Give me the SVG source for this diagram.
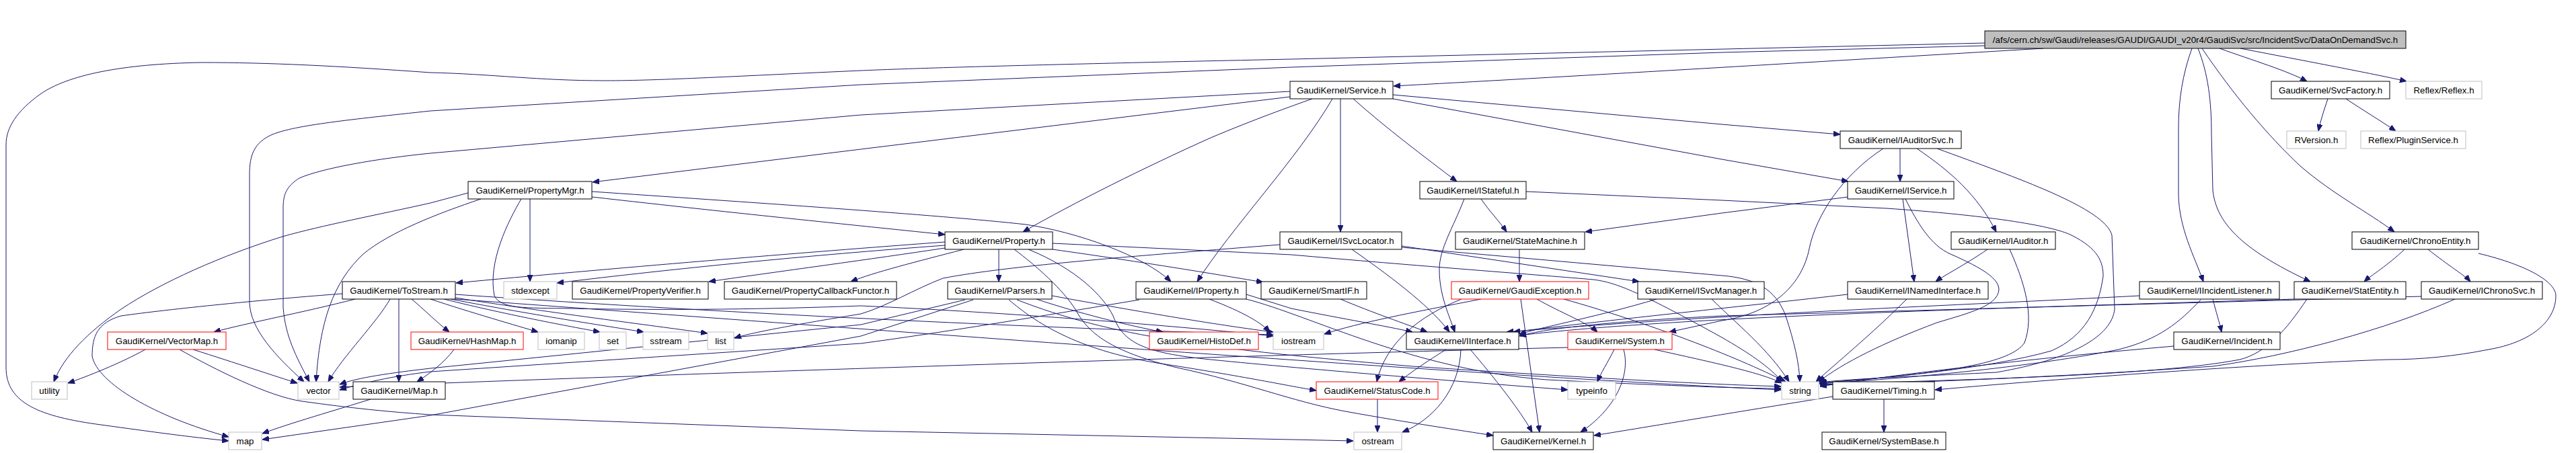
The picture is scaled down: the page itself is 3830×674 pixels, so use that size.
<svg xmlns="http://www.w3.org/2000/svg" width="3830" height="674" viewBox="0 0 3830 674">
<defs>
<marker id="a" markerWidth="10" markerHeight="8" refX="10" refY="4" orient="auto" markerUnits="userSpaceOnUse"><path d="M0,0 L10,4 L0,8 z" fill="#191970" stroke="#191970" stroke-width="1"/></marker>
<style>
rect{fill:#fff;stroke:#000;stroke-width:1}
.g rect{stroke:#bfbfbf}
.r rect{stroke:#ff0000}
#root rect{fill:#bfbfbf}
text{font-family:"Liberation Sans",Arial,sans-serif;font-size:13.3px;text-anchor:middle;fill:#000}
#edges path{fill:none;stroke:#191970;stroke-width:1;marker-end:url(#a)}
</style>
</defs>
<rect x="0" y="0" width="3830" height="674" style="fill:#fff;stroke:none"/>
<g id="edges">
<path d="M2951,64 L1920,88 C1500,97 1350,102 1280,105 C1100,113 980,120 900,120 C800,120 730,110 640,108 C500,98 400,93 300,93 C180,95 100,112 60,140 C25,165 9,190 9,215 L9,547 C9,600 60,620 150,632 C230,643 280,650 340,656"/>
<path d="M2951,68 L2560,78 L1920,100 L1280,126 L640,165 C520,178 440,186 405,200 C378,212 371,230 371,260 L371,450 C372,490 410,530 452,568"/>
<path d="M3038,72 C2700,92 2300,116 2072,128"/>
<path d="M3300,72 C3350,90 3400,105 3430,121"/>
<path d="M3331,72 C3450,95 3530,110 3578,121"/>
<path d="M3259,72 C3245,110 3239,150 3239,190 L3239,290 C3240,340 3262,380 3276,419"/>
<path d="M3268,72 C3283,110 3288,150 3288,200 L3290,283 C3295,330 3330,370 3435,419"/>
<path d="M3274,72 C3320,140 3370,200 3420,247 C3470,290 3520,315 3560,345"/>
<path d="M3461,147 C3455,165 3450,180 3447,195"/>
<path d="M3488,147 C3515,165 3540,180 3562,195"/>
<path d="M1918,136 L1280,171 L640,228 C560,236 480,250 445,265 C425,278 421,290 421,310 L421,457 C424,500 440,530 460,568"/>
<path d="M1918,144 L1280,222 L881,271"/>
<path d="M1951,147 C1920,158 1864,178 1800,205 C1700,250 1600,300 1521,345"/>
<path d="M1981,147 C1930,235 1830,340 1780,419"/>
<path d="M1993,147 L1993,345"/>
<path d="M2012,147 C2060,190 2120,235 2166,270"/>
<path d="M2071,141 L2560,185 L2736,200"/>
<path d="M2071,147 L2560,237 L2748,270"/>
<path d="M2825,221 L2825,270"/>
<path d="M2850,221 C2900,255 2940,290 2968,345"/>
<path d="M2880,221 C3000,265 3130,310 3140,350 L3144,460 C3140,500 3080,535 2968,554 C2850,560 2760,563 2705,569"/>
<path d="M2800,221 C2740,260 2700,320 2690,370 C2680,420 2640,465 2560,477 L2482,494"/>
<path d="M2829,296 L2846,419"/>
<path d="M2833,296 C2850,330 2870,365 2900,378 C2950,400 2972,415 2972,431 C2970,455 2930,465 2880,480 C2800,510 2740,540 2704,568"/>
<path d="M2748,293 L2560,317 L2357,345"/>
<path d="M2202,296 C2215,315 2230,330 2240,345"/>
<path d="M2177,296 C2160,340 2140,370 2140,401 C2140,440 2155,470 2163,494"/>
<path d="M2269,285 L2560,298 L2805,310 C2950,320 3050,335 3080,350 C3120,370 3127,390 3127,411 C3120,460 3100,500 3050,522 C2950,550 2800,562 2706,570"/>
<path d="M2010,371 C2080,420 2130,460 2155,494"/>
<path d="M2084,366 L2437,419"/>
<path d="M2084,368 L2560,410 C2610,414 2640,430 2655,470 C2668,510 2675,540 2676,568"/>
<path d="M1903,364 C1700,380 1500,395 1402,414 C1360,430 1320,455 1280,467 C1200,480 1120,494 1092,503"/>
<path d="M1405,360 C1200,375 900,400 678,421"/>
<path d="M1405,365 C1200,380 1000,400 828,421"/>
<path d="M1405,369 C1300,385 1150,405 1054,419"/>
<path d="M1433,371 C1360,390 1300,405 1265,419"/>
<path d="M1485,371 L1485,419"/>
<path d="M1565,371 C1700,390 1820,410 1878,420"/>
<path d="M1565,362 L1920,379 C2100,395 2300,410 2369,416 C2400,420 2430,430 2560,502 C2600,525 2630,545 2650,568"/>
<path d="M1508,371 C1540,395 1580,430 1600,462 C1620,500 1660,525 1750,547 C1850,568 1920,597 2000,612 C2100,630 2170,640 2220,648"/>
<path d="M1529,371 C1600,400 1640,440 1655,470 C1670,510 1700,525 1800,535 C1950,550 2200,570 2331,580"/>
<path d="M1541,445 C1600,465 1680,485 1729,494"/>
<path d="M1435,446 L1280,483 L640,548 C580,555 530,562 505,572"/>
<path d="M1447,446 L1280,500 L640,618 L390,654"/>
<path d="M1500,446 C1540,480 1600,520 1720,540 C1850,560 1920,575 1957,581"/>
<path d="M1512,446 C1650,500 1800,520 2100,545 C2400,565 2550,572 2648,575"/>
<path d="M1564,440 C1700,465 1820,485 1893,494"/>
<path d="M1853,438 L1920,459 C2000,475 2060,485 2100,494"/>
<path d="M1853,445 C1950,470 2100,550 2300,565 C2500,575 2600,578 2648,578"/>
<path d="M1798,445 C1850,465 1875,480 1888,494"/>
<path d="M1694,446 C1550,470 1400,495 1280,511 L640,553 C580,560 540,570 505,580"/>
<path d="M2331,517 C1800,530 900,560 505,576"/>
<path d="M1993,445 C2040,465 2090,482 2122,494"/>
<path d="M2173,445 C2110,470 2060,510 2047,568"/>
<path d="M2202,445 C2100,465 2020,480 1969,497"/>
<path d="M2261,445 L2289,643"/>
<path d="M2285,445 C2320,465 2360,480 2375,494"/>
<path d="M2325,445 C2450,480 2580,530 2655,568"/>
<path d="M2463,445 C2380,470 2300,485 2259,497"/>
<path d="M2545,445 C2580,480 2630,520 2660,568"/>
<path d="M2747,438 C2600,455 2400,475 2250,494"/>
<path d="M2835,445 C2780,500 2730,540 2700,568"/>
<path d="M2955,371 C2920,395 2890,410 2878,419"/>
<path d="M2988,371 C3010,420 3025,470 3010,510 C2990,540 2900,555 2705,570"/>
<path d="M3181,440 C2900,455 2600,465 2240,494"/>
<path d="M3290,445 C3295,465 3300,480 3303,494"/>
<path d="M3272,446 C3240,480 3210,505 3150,520 C3000,550 2800,565 2705,571"/>
<path d="M3411,445 C3000,458 2500,470 2259,499"/>
<path d="M3430,445 C3400,490 3370,525 3330,535 C3200,560 2900,565 2706,572"/>
<path d="M3600,441 L2560,470 C2400,478 2300,488 2259,500"/>
<path d="M3650,445 C3550,490 3400,530 3290,545 C3000,565 2800,570 2706,573"/>
<path d="M3575,371 C3550,395 3525,410 3515,419"/>
<path d="M3610,371 C3640,395 3665,410 3673,419"/>
<path d="M3685,377 C3760,395 3800,420 3800,440 C3800,480 3760,510 3700,520 C3650,530 3600,535 3550,535 C3400,540 3100,560 2877,580"/>
<path d="M3232,515 C3000,535 2800,560 2706,575"/>
<path d="M2801,594 L2801,643"/>
<path d="M2725,590 C2600,610 2450,635 2370,648"/>
<path d="M2400,520 C2390,540 2380,555 2375,568"/>
<path d="M2414,520 C2425,560 2400,610 2350,643"/>
<path d="M2460,520 C2550,540 2620,555 2649,570"/>
<path d="M2150,520 C2110,545 2090,560 2080,568"/>
<path d="M2172,520 C2170,580 2130,625 2085,643"/>
<path d="M2186,520 C2220,560 2260,610 2278,643"/>
<path d="M2048,594 L2048,643"/>
<path d="M2259,371 L2259,419"/>
<path d="M509,437 C400,445 250,460 180,470 C145,480 137,500 137,530 C145,570 230,620 340,650"/>
<path d="M528,445 C450,465 370,480 318,494"/>
<path d="M580,445 C560,480 510,530 488,568"/>
<path d="M593,445 L593,568"/>
<path d="M612,445 C630,460 650,480 668,494"/>
<path d="M640,445 C700,465 770,485 800,494"/>
<path d="M660,445 C760,470 860,488 892,494"/>
<path d="M670,445 C800,470 920,488 957,494"/>
<path d="M677,443 C850,470 1000,488 1052,496"/>
<path d="M677,438 C1100,468 1600,490 1893,498"/>
<path d="M677,445 C1300,490 2200,560 2648,580"/>
<path d="M216,520 C180,540 130,560 101,570"/>
<path d="M287,520 C350,540 410,560 442,570"/>
<path d="M267,520 C320,550 400,590 449,597 C520,607 580,613 640,617 L1280,641 L1920,654 L2012,656"/>
<path d="M675,520 C660,540 640,555 620,568"/>
<path d="M551,594 C500,610 430,630 390,645"/>
<path d="M696,287 L640,302 C560,320 480,335 420,352 C330,380 240,420 180,460 C130,495 95,530 80,568"/>
<path d="M715,296 C650,318 580,345 540,378 C495,420 475,480 470,568"/>
<path d="M788,296 L788,419"/>
<path d="M775,296 C755,330 725,390 735,440 C745,460 780,458 850,459 C1000,462 1150,460 1280,455 C1500,465 1750,485 1893,500"/>
<path d="M880,293 C1100,318 1300,338 1405,349"/>
<path d="M880,285 C1100,300 1400,320 1525,334 C1600,345 1700,380 1741,419"/>
</g>
<g id="root"><rect x="2951" y="46" width="626" height="26"/><text x="3264" y="64">/afs/cern.ch/sw/Gaudi/releases/GAUDI/GAUDI_v20r4/GaudiSvc/src/IncidentSvc/DataOnDemandSvc.h</text></g>
<g id="n_service"><rect x="1918" y="121" width="153" height="26"/><text x="1994.5" y="139">GaudiKernel/Service.h</text></g>
<g id="n_svcfactory"><rect x="3377" y="121" width="176" height="26"/><text x="3465" y="139">GaudiKernel/SvcFactory.h</text></g>
<g id="n_reflex" class="g"><rect x="3577" y="121" width="113" height="26"/><text x="3633.5" y="139">Reflex/Reflex.h</text></g>
<g id="n_iauditorsvc"><rect x="2736" y="195" width="180" height="26"/><text x="2826" y="213">GaudiKernel/IAuditorSvc.h</text></g>
<g id="n_rversion" class="g"><rect x="3400" y="195" width="88" height="26"/><text x="3444" y="213">RVersion.h</text></g>
<g id="n_plugin" class="g"><rect x="3510" y="195" width="156" height="26"/><text x="3588" y="213">Reflex/PluginService.h</text></g>
<g id="n_propmgr"><rect x="696" y="270" width="184" height="26"/><text x="788" y="288">GaudiKernel/PropertyMgr.h</text></g>
<g id="n_istateful"><rect x="2111" y="270" width="158" height="26"/><text x="2190" y="288">GaudiKernel/IStateful.h</text></g>
<g id="n_iservice"><rect x="2747" y="270" width="158" height="26"/><text x="2826" y="288">GaudiKernel/IService.h</text></g>
<g id="n_property"><rect x="1405" y="345" width="160" height="26"/><text x="1485" y="363">GaudiKernel/Property.h</text></g>
<g id="n_isvclocator"><rect x="1903" y="345" width="181" height="26"/><text x="1993.5" y="363">GaudiKernel/ISvcLocator.h</text></g>
<g id="n_statemachine"><rect x="2164" y="345" width="192" height="26"/><text x="2260" y="363">GaudiKernel/StateMachine.h</text></g>
<g id="n_iauditor"><rect x="2901" y="345" width="155" height="26"/><text x="2978.5" y="363">GaudiKernel/IAuditor.h</text></g>
<g id="n_chronoentity"><rect x="3497" y="345" width="188" height="26"/><text x="3591" y="363">GaudiKernel/ChronoEntity.h</text></g>
<g id="n_tostream"><rect x="509" y="419" width="168" height="26"/><text x="593" y="437">GaudiKernel/ToStream.h</text></g>
<g id="n_stdexcept" class="g"><rect x="749" y="419" width="79" height="26"/><text x="788.5" y="437">stdexcept</text></g>
<g id="n_propverifier"><rect x="851" y="419" width="202" height="26"/><text x="952" y="437">GaudiKernel/PropertyVerifier.h</text></g>
<g id="n_propcallback"><rect x="1077" y="419" width="256" height="26"/><text x="1205" y="437">GaudiKernel/PropertyCallbackFunctor.h</text></g>
<g id="n_parsers"><rect x="1409" y="419" width="155" height="26"/><text x="1486.5" y="437">GaudiKernel/Parsers.h</text></g>
<g id="n_iproperty"><rect x="1689" y="419" width="164" height="26"/><text x="1771" y="437">GaudiKernel/IProperty.h</text></g>
<g id="n_smartif"><rect x="1875" y="419" width="157" height="26"/><text x="1953.5" y="437">GaudiKernel/SmartIF.h</text></g>
<g id="n_gaudiexception" class="r"><rect x="2158" y="419" width="204" height="26"/><text x="2260" y="437">GaudiKernel/GaudiException.h</text></g>
<g id="n_isvcmanager"><rect x="2435" y="419" width="188" height="26"/><text x="2529" y="437">GaudiKernel/ISvcManager.h</text></g>
<g id="n_inamedinterface"><rect x="2747" y="419" width="209" height="26"/><text x="2851.5" y="437">GaudiKernel/INamedInterface.h</text></g>
<g id="n_iincidentlistener"><rect x="3181" y="419" width="208" height="26"/><text x="3285" y="437">GaudiKernel/IIncidentListener.h</text></g>
<g id="n_statentity"><rect x="3411" y="419" width="166" height="26"/><text x="3494" y="437">GaudiKernel/StatEntity.h</text></g>
<g id="n_ichronosvc"><rect x="3600" y="419" width="180" height="26"/><text x="3690" y="437">GaudiKernel/IChronoSvc.h</text></g>
<g id="n_vectormap" class="r"><rect x="160" y="494" width="176" height="26"/><text x="248" y="512">GaudiKernel/VectorMap.h</text></g>
<g id="n_hashmap" class="r"><rect x="611" y="494" width="167" height="26"/><text x="694.5" y="512">GaudiKernel/HashMap.h</text></g>
<g id="n_iomanip" class="g"><rect x="800" y="494" width="69" height="26"/><text x="834.5" y="512">iomanip</text></g>
<g id="n_set" class="g"><rect x="891" y="494" width="40" height="26"/><text x="911" y="512">set</text></g>
<g id="n_sstream" class="g"><rect x="956" y="494" width="68" height="26"/><text x="990" y="512">sstream</text></g>
<g id="n_list" class="g"><rect x="1052" y="494" width="39" height="26"/><text x="1071.5" y="512">list</text></g>
<g id="n_histodef" class="r"><rect x="1709" y="494" width="162" height="26"/><text x="1790" y="512">GaudiKernel/HistoDef.h</text></g>
<g id="n_iostream" class="g"><rect x="1893" y="494" width="75" height="26"/><text x="1930.5" y="512">iostream</text></g>
<g id="n_iinterface"><rect x="2091" y="494" width="167" height="26"/><text x="2174.5" y="512">GaudiKernel/IInterface.h</text></g>
<g id="n_system" class="r"><rect x="2331" y="494" width="155" height="26"/><text x="2408.5" y="512">GaudiKernel/System.h</text></g>
<g id="n_incident"><rect x="3232" y="494" width="158" height="26"/><text x="3311" y="512">GaudiKernel/Incident.h</text></g>
<g id="n_utility" class="g"><rect x="47" y="568" width="53" height="26"/><text x="73.5" y="586">utility</text></g>
<g id="n_vector" class="g"><rect x="443" y="568" width="61" height="26"/><text x="473.5" y="586">vector</text></g>
<g id="n_maph"><rect x="525" y="568" width="137" height="26"/><text x="593.5" y="586">GaudiKernel/Map.h</text></g>
<g id="n_statuscode" class="r"><rect x="1957" y="568" width="181" height="26"/><text x="2047.5" y="586">GaudiKernel/StatusCode.h</text></g>
<g id="n_typeinfo" class="g"><rect x="2331" y="568" width="71" height="26"/><text x="2366.5" y="586">typeinfo</text></g>
<g id="n_string" class="g"><rect x="2649" y="568" width="55" height="26"/><text x="2676.5" y="586">string</text></g>
<g id="n_timing"><rect x="2725" y="568" width="151" height="26"/><text x="2800.5" y="586">GaudiKernel/Timing.h</text></g>
<g id="n_map" class="g"><rect x="340" y="643" width="49" height="26"/><text x="364.5" y="661">map</text></g>
<g id="n_ostream" class="g"><rect x="2013" y="643" width="71" height="26"/><text x="2048.5" y="661">ostream</text></g>
<g id="n_kernel"><rect x="2220" y="643" width="149" height="26"/><text x="2294.5" y="661">GaudiKernel/Kernel.h</text></g>
<g id="n_systembase"><rect x="2709" y="643" width="184" height="26"/><text x="2801" y="661">GaudiKernel/SystemBase.h</text></g>
</svg>
